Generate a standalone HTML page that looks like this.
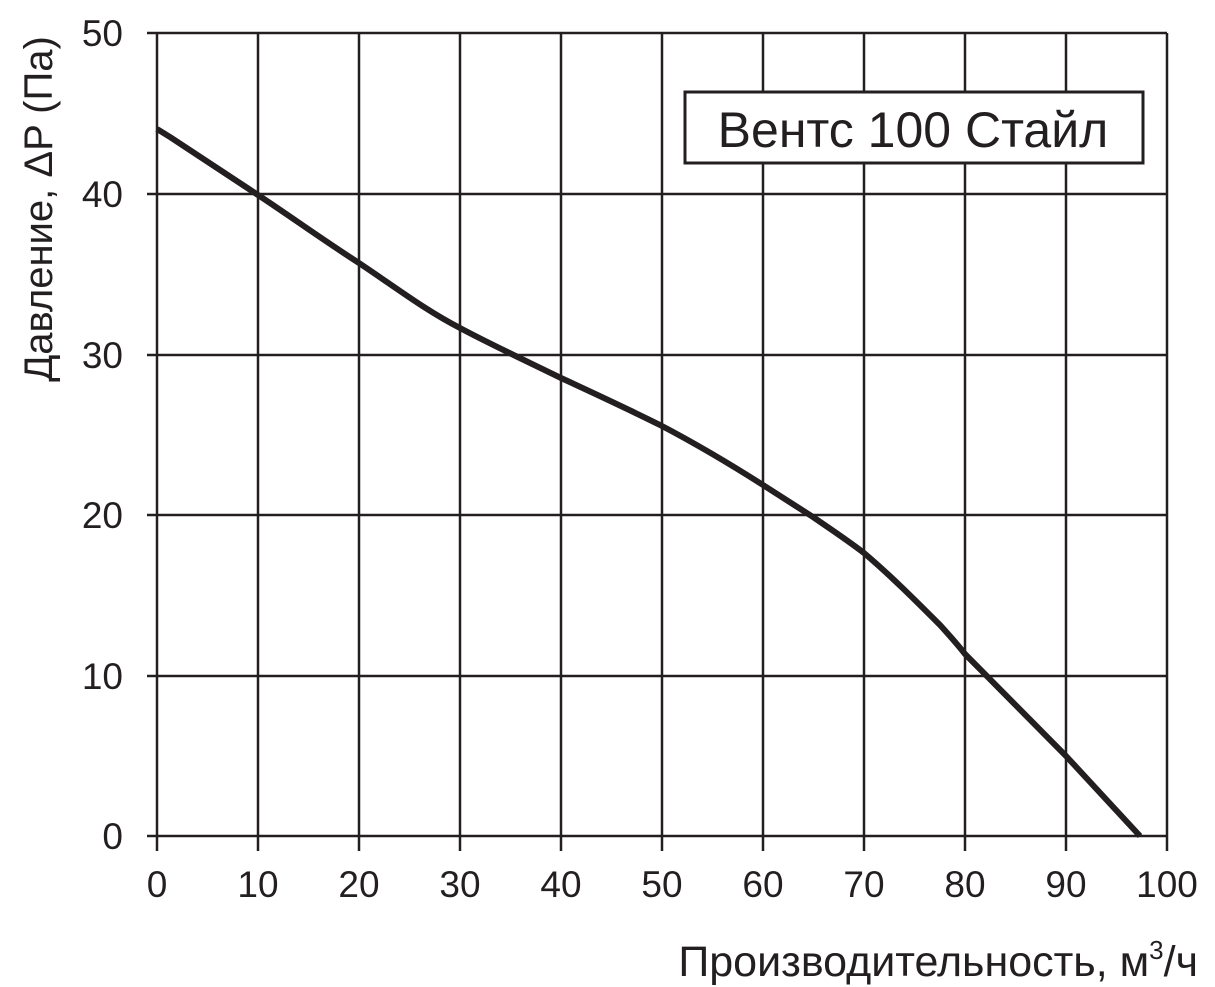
<!DOCTYPE html>
<html><head><meta charset="utf-8"><style>
html,body{margin:0;padding:0;background:#fff;}
svg{display:block;}
text{font-family:"Liberation Sans",sans-serif;fill:#231f20;}
</style></head><body>
<svg width="1215" height="987" viewBox="0 0 1215 987">
<g stroke="#231f20" stroke-width="2.5" fill="none">
<line x1="147" y1="33" x2="1167" y2="33"/>
<line x1="147" y1="194" x2="1167" y2="194"/>
<line x1="147" y1="355" x2="1167" y2="355"/>
<line x1="147" y1="515" x2="1167" y2="515"/>
<line x1="147" y1="676" x2="1167" y2="676"/>
<line x1="147" y1="836" x2="1167" y2="836"/>
<line x1="157" y1="33" x2="157" y2="851"/>
<line x1="258" y1="33" x2="258" y2="851"/>
<line x1="359" y1="33" x2="359" y2="851"/>
<line x1="460" y1="33" x2="460" y2="851"/>
<line x1="561" y1="33" x2="561" y2="851"/>
<line x1="662" y1="33" x2="662" y2="851"/>
<line x1="763" y1="33" x2="763" y2="851"/>
<line x1="864" y1="33" x2="864" y2="851"/>
<line x1="965" y1="33" x2="965" y2="851"/>
<line x1="1066" y1="33" x2="1066" y2="851"/>
<line x1="1167" y1="33" x2="1167" y2="851"/>
</g>
<path d="M157,129 L170,137 L258,195 C290,216 320,238 359,263 C395,287 425,310 460,328 C490,344 520,358 561,378 C600,396 630,410 662,426 C700,446 730,464 763,485 L813,517 C835,532 850,542 864,553 C890,575 915,600 940,625 C950,636 958,645 965,654 L1066,756 L1140,836" stroke="#231f20" stroke-width="6" fill="none" stroke-linejoin="round"/>
<rect x="685" y="92" width="458" height="71" fill="#fff" stroke="#231f20" stroke-width="3"/>
<text x="913" y="147" font-size="50" text-anchor="middle">Вентс 100 Стайл</text>
<g font-size="37" text-anchor="end">
<text x="123" y="46">50</text>
<text x="123" y="207">40</text>
<text x="123" y="368">30</text>
<text x="123" y="528">20</text>
<text x="123" y="689">10</text>
<text x="123" y="849">0</text>
</g>
<g font-size="37" text-anchor="middle">
<text x="157" y="897">0</text>
<text x="258" y="897">10</text>
<text x="359" y="897">20</text>
<text x="460" y="897">30</text>
<text x="561" y="897">40</text>
<text x="662" y="897">50</text>
<text x="763" y="897">60</text>
<text x="864" y="897">70</text>
<text x="965" y="897">80</text>
<text x="1066" y="897">90</text>
<text x="1167" y="897">100</text>
</g>
<text x="1198" y="976" font-size="43" text-anchor="end">Производительность, м<tspan font-size="26" dy="-17">3</tspan><tspan dy="17">/ч</tspan></text>
<text transform="translate(52,209) rotate(-90)" font-size="40" text-anchor="middle">Давление,  ΔP (Па)</text>
</svg>
</body></html>
